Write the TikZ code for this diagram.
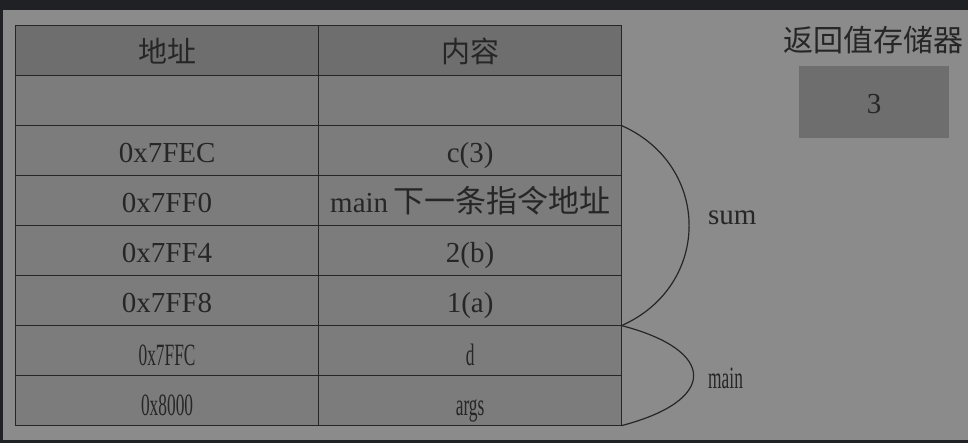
\documentclass[tikz,border=0pt]{standalone}
\usepackage{fontspec}
\setmainfont{Liberation Serif}
\newfontfamily\cjk{Noto Sans CJK SC}
\newfontfamily\narrowserif{Liberation Serif}[FakeStretch=0.56]
\usetikzlibrary{positioning}

\definecolor{frame}{HTML}{202124}
\definecolor{paper}{HTML}{8B8B8B}
\definecolor{cellgray}{HTML}{7C7C7C}
\definecolor{headgray}{HTML}{6E6E6E}
\definecolor{ink}{HTML}{262626}

\begin{document}
\begin{tikzpicture}
	[x=1pt, y=-1pt,
		cell/.style		={rectangle
									, draw=ink
									, line width=1.2pt
									, fill=cellgray
									, text=ink
									, minimum width=303pt
									, minimum height=50pt
									, inner sep=0pt
									, text height=24pt
									, text depth=0pt
									, font=\fontsize{29}{34}\selectfont
									},
		head/.style		={cell
									, fill=headgray
									},
		narrow/.style	={cell
									, text height=29pt
									, font=\fontsize{31}{36}\narrowserif
									},
		brace/.style	={draw=ink
									, line width=1.2pt
									},
		tag/.style		={text=ink
									, inner sep=0pt
									, font=\fontsize{29}{34}\selectfont
									}
	]
\useasboundingbox (0,0) rectangle (968,443);
\fill [frame] (0,0) rectangle (968,443);
\fill [paper] (3,10) rectangle (968,440);

\matrix (stack) [column sep=-1.2pt, row sep=-1.2pt, inner sep=0pt, outer sep=0pt,
	anchor=north west] at (15,25)
	{
		% row 1
			\node [head] (addr head)		{\cjk 地址}; &
			\node [head] (content head)	{\cjk 内容}; \\
		% row 2
			\node [cell] (addr blank)		{}; &
			\node [cell] (content blank)	{}; \\
		% row 3
			\node [cell] (addr c)			{0x7FEC}; &
			\node [cell] (content c)		{c(3)}; \\
		% row 4
			\node [cell] (addr ret)			{0x7FF0}; &
			\node [cell] (content ret)		{main\,{\fontsize{31}{34}\cjk 下一条指令地址}}; \\
		% row 5
			\node [cell] (addr b)			{0x7FF4}; &
			\node [cell] (content b)		{2(b)}; \\
		% row 6
			\node [cell] (addr a)			{0x7FF8}; &
			\node [cell] (content a)		{1(a)}; \\
		% row 7
			\node [narrow] (addr d)			{0x7FFC}; &
			\node [narrow] (content d)		{d}; \\
		% row 8
			\node [narrow] (addr args)		{0x8000}; &
			\node [narrow] (content args)	{args}; \\
	};

% return value register
\node [rectangle, fill=headgray, text=ink, minimum width=150pt, minimum height=72pt,
	text height=24pt, text depth=0pt, font=\fontsize{29}{34}\selectfont] (ret box) at (874,102) {3};
\node [tag, font=\fontsize{30}{34}\cjk, anchor=base] (ret title) at (873,52) {返回值存储器};

% frames
\draw [brace] (content c.north east) .. controls +(90,40) and +(90,-40) .. (content a.south east);
\draw [brace] (content d.north east) .. controls +(96,25) and +(96,-25) .. (content args.south east);
\node [tag, anchor=base west] (sum label) at (708,225) {sum};
\node [tag, anchor=base west, font=\fontsize{31}{36}\narrowserif] (main label) at (708,388) {main};
\end{tikzpicture}
\end{document}
